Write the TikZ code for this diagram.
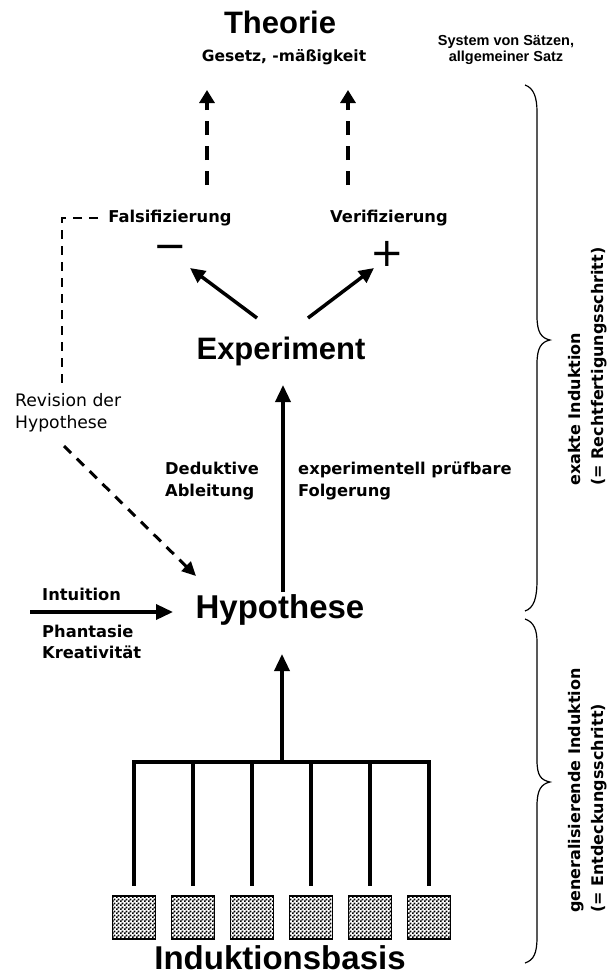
\documentclass[tikz,border=0pt]{standalone}
\usepackage{fontspec}
\setmainfont{Liberation Sans}
\newfontfamily\dv{DejaVu Sans}
\usetikzlibrary{arrows.meta,patterns}
\pgfdeclarepatternformonly{basisdots}{\pgfpointorigin}{\pgfqpoint{4pt}{4pt}}{\pgfqpoint{4pt}{4pt}}{%
  \pgfpathrectangle{\pgfqpoint{0pt}{0pt}}{\pgfqpoint{2pt}{2pt}}%
  \pgfpathrectangle{\pgfqpoint{2pt}{2pt}}{\pgfqpoint{2pt}{2pt}}%
  \pgfusepath{fill}}
\begin{document}
\begin{tikzpicture}[x=1pt,y=-1pt,
  title/.style={font=\bfseries\fontsize{31}{36}\selectfont, inner sep=0pt},
  bigtitle/.style={font=\bfseries\fontsize{33}{38}\selectfont, inner sep=0pt},
  lab/.style={font=\dv\bfseries\fontsize{16.3}{21.5}\selectfont, inner sep=0pt, align=left},
  thin lab/.style={font=\dv\fontsize{17.2}{22}\selectfont, inner sep=0pt, align=left},
  side lab/.style={font=\bfseries\fontsize{14.5}{16}\selectfont, inner sep=0pt, align=center},
  rot lab/.style={font=\dv\bfseries\fontsize{16}{23}\selectfont, inner sep=0pt, align=left, rotate=90, anchor=west},
  sign/.style={font=\dv\fontsize{40}{40}\selectfont, inner sep=0pt},
  arr/.style={line width=3.5pt, -{Triangle[length=17pt,width=15pt]}},
  darr/.style={line width=3.5pt, dash pattern=on 14pt off 11pt, -{Triangle[length=13pt,width=15pt]}},
  diagarr/.style={line width=3pt, dash pattern=on 10pt off 8pt, -{Triangle[length=14pt,width=13pt]}},
  thindash/.style={line width=2pt, dash pattern=on 9pt off 7pt},
  barline/.style={line width=3.5pt, line cap=rect},
  stemline/.style={line width=3.5pt},
  bracestyle/.style={line width=1.2pt},
  basisbox/.style={draw, line width=1.3pt, minimum size=43pt, inner sep=0pt, pattern=basisdots}
]
\useasboundingbox (0,0) rectangle (607,978);

% titles
\node[title] (theorie) at (280,22) {Theorie};
\node[font=\dv\bfseries\fontsize{15.5}{18}\selectfont, inner sep=0pt] (gesetz) at (284,57) {Gesetz, -mäßigkeit};
\node[side lab] (system) at (506,50) {System von Sätzen,\\allgemeiner Satz};

% dashed arrows to theory
\coordinate (dl0) at (207,185); \coordinate (dl1) at (207,90);
\coordinate (dr0) at (348,185); \coordinate (dr1) at (348,90);
\draw[darr] (dl0) -- (dl1);
\draw[darr] (dr0) -- (dr1);

% falsification / verification
\node[lab] (fals) at (170,218) {Falsifizierung};
\node[lab] (veri) at (389,218) {Verifizierung};
\node[sign] (minus) at (170,252) {−};
\node[sign] (plus) at (387,254) {+};

% experiment
\node[title] (exp) at (281,351) {Experiment};
\coordinate (eL0) at (257,318); \coordinate (eL1) at (190,268);
\coordinate (eR0) at (308,318); \coordinate (eR1) at (374,268);
\draw[arr, -{Triangle[length=15pt,width=14pt]}] (eL0) -- (eL1);
\draw[arr, -{Triangle[length=15pt,width=14pt]}] (eR0) -- (eR1);

% revision loop
\coordinate (fl0) at (98,218); \coordinate (fc) at (62,218); \coordinate (fl1) at (62,384);
\draw[thindash] (fl0) -- (fc) -- (fl1);
\node[thin lab, anchor=west] (rev) at (15,413) {Revision der\\Hypothese};
\coordinate (rv0) at (64,446); \coordinate (rv1) at (196,576);
\draw[diagarr] (rv0) -- (rv1);

% deduction
\node[lab, anchor=west] (ded) at (165,481) {Deduktive\\Ableitung};
\node[lab, anchor=west] (folg) at (298,481) {experimentell prüfbare\\Folgerung};
\coordinate (hx0) at (283,592); \coordinate (hx1) at (283,385);
\draw[arr] (hx0) -- (hx1);

% hypothesis
\node[bigtitle] (hyp) at (280,610) {Hypothese};
\node[lab, anchor=west] (intu) at (42,594) {Intuition};
\node[lab, anchor=west] (phan) at (42,642) {Phantasie\\Kreativität};
\coordinate (in0) at (30,612); \coordinate (in1) at (173,612);
\draw[arr] (in0) -- (in1);

% induction basis
\coordinate (bar0) at (134,762); \coordinate (bar1) at (429,762);
\coordinate (stem) at (282,762); \coordinate (stemtop) at (282,654);
\draw[arr] (stem) -- (stemtop);
\draw[barline] (bar0) -- (bar1);
\foreach \i/\x in {1/134,2/193,3/252,4/311,5/370,6/429}{
  \node[basisbox] (b\i) at (\x,917.5) {};
  \coordinate (t\i) at (\x,762);
  \draw[stemline] (t\i) -- ([yshift=9pt]b\i.north);
}
\node[bigtitle] (basis) at (280,958) {Induktionsbasis};

% braces
\draw[bracestyle] (525,85) .. controls (534,88) and (537,98) .. (537,112) -- (537,316)
  .. controls (537,332) and (541,338) .. (550,340)
  .. controls (541,342) and (537,348) .. (537,364) -- (537,580)
  .. controls (537,598) and (534,608) .. (525,611);
\draw[bracestyle] (525,619) .. controls (534,622) and (537,630) .. (537,642) -- (537,760)
  .. controls (537,776) and (541,780) .. (550,782)
  .. controls (541,784) and (537,790) .. (537,806) -- (537,937)
  .. controls (537,953) and (534,960) .. (525,963);
\node[rot lab] (exakt) at (588,486) {exakte Induktion\\(= Rechtfertigungsschritt)};
\node[rot lab] (gener) at (588,913) {generalisierende Induktion\\(= Entdeckungsschritt)};
\end{tikzpicture}
\end{document}
